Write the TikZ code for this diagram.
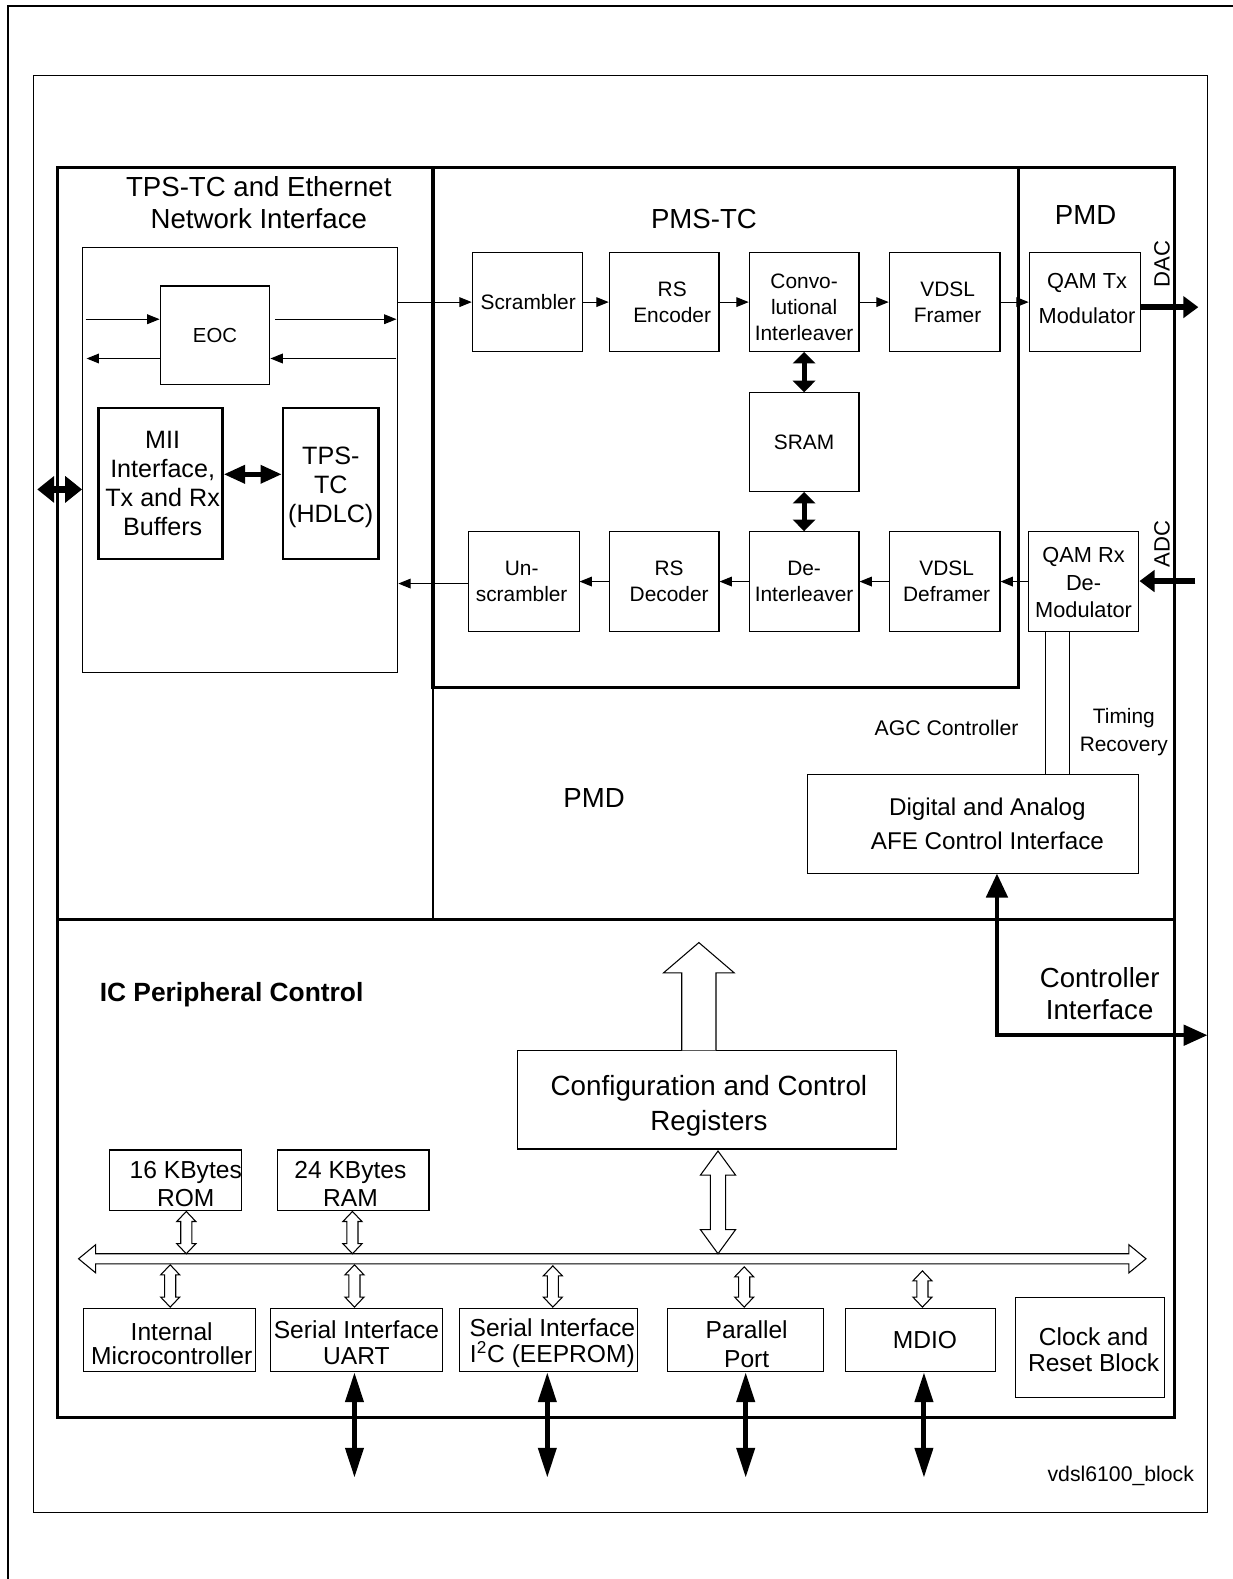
\documentclass[tikz,border=0pt]{standalone}
\usepackage{fontspec}
\setmainfont{Liberation Sans}
\usetikzlibrary{arrows.meta,calc}

\newcommand\fsz[2]{\fontsize{#1pt}{#2pt}\selectfont}
% block: name, left, top, right, bottom, style, text offset (dx,dy), text
\newcommand\blk[8]{%
  \node[#6, minimum width={(#4-#2)*0.02cm}, minimum height={(#5-#3)*0.02cm}] (#1) at ({(#2+#4)/2},{(#3+#5)/2}) {};
  \node[#6, draw=none] (#1-t) at ($(#1.center)+(#7)$) {#8};}
% hollow double-headed vertical arrow: x, top tip, bottom tip, shaft half width, head half width, head length
\newcommand\hollowpair[6]{%
  \draw[line width=0.6pt, fill=white]
    (#1-#4,#2+#6) -- (#1-#5,#2+#6) -- (#1,#2) -- (#1+#5,#2+#6) -- (#1+#4,#2+#6)
    -- (#1+#4,#3-#6) -- (#1+#5,#3-#6) -- (#1,#3) -- (#1-#5,#3-#6) -- (#1-#4,#3-#6) -- cycle;}

\begin{document}
\begin{tikzpicture}[x=0.02cm,y=-0.02cm,
  thinline/.style={line width=0.6pt},
  edgeframe/.style={line width=1.6pt},
  box/.style={draw, line width=0.6pt, inner sep=0pt, align=center, font=\fsz{11.8}{14.6}},
  heavybox/.style={draw, line width=1.4pt, inner sep=0pt, align=center, font=\fsz{14.2}{16.4}},
  lowbox/.style={box, font=\fsz{13.9}{14.8}},
  lbl/.style={inner sep=0pt, align=center},
  flow/.style={line width=0.6pt, -{Triangle[length=7pt,width=5.5pt]}},
  fatpair/.style={line width=2.8pt, {Triangle[length=6.5pt,width=12.5pt]}-{Triangle[length=6.5pt,width=12.5pt]}},
  miipair/.style={line width=2.6pt, {Triangle[length=12pt,width=10pt]}-{Triangle[length=12pt,width=10pt]}},
  extpair/.style={line width=4.2pt, {Triangle[length=9.5pt,width=14.5pt]}-{Triangle[length=9.5pt,width=14.5pt]}},
  fat/.style={line width=3.6pt, -{Triangle[length=8.5pt,width=12pt]}},
  ctrl/.style={line width=2.3pt, {Triangle[length=13.5pt,width=12pt]}-{Triangle[length=13.5pt,width=11.5pt]}},
  iopair/.style={line width=2.8pt, {Triangle[length=17pt,width=10pt]}-{Triangle[length=17pt,width=10pt]}},
]
\useasboundingbox (0,0) rectangle (1224,1568);

% page and sheet frames
\draw[line width=0.8pt] (8,1568) -- (8,6) -- (1224,6);
\draw[thinline] (33,75) rectangle (1199,1502);

% main chip outline and partitions
\draw[edgeframe] (57,166) rectangle (1166,1408);
\draw[edgeframe] (57,913) -- (1166,913);
\draw[edgeframe] (430,166) -- (430,913);
\blk{pms}{430}{166}{1011}{683}{draw, line width=1.8pt, inner sep=0pt}{0,0}{}

% section titles
\node[lbl, font=\fsz{15.6}{18.1}] (ttps) at (257,201) {TPS-TC and Ethernet\\Network Interface};
\node[lbl, font=\fsz{15.6}{18.1}] (tpms) at (699,217) {PMS-TC};
\node[lbl, font=\fsz{15.6}{18.1}] (tpmd) at (1078,214) {PMD};
\node[lbl, font=\fsz{15.6}{18.1}] (tpmd2) at (590,792) {PMD};
\node[lbl, font=\fsz{12}{15}] (tagc) at (940,723) {AGC Controller};
\node[lbl, font=\fsz{11.8}{15.3}] (ttim) at (1116,727) {Timing\\Recovery};
\node[lbl, font=\fsz{15.6}{18.1}] (tci) at (1092,987) {Controller\\Interface};
\node[lbl, font=\bfseries\fsz{14.9}{18}] (tic) at (230,988) {IC Peripheral Control};
\node[lbl, font=\fsz{12}{14}, anchor=base east] (tblk) at (1186,1471) {vdsl6100\_block};
\node[lbl, font=\fsz{12.5}{14}, rotate=90] (tdac) at (1154,262) {DAC};
\node[lbl, font=\fsz{12.5}{14}, rotate=90] (tadc) at (1154,540) {ADC};

% TPS-TC and Ethernet network interface
\blk{tpsin}{82}{246}{395}{668}{box}{0,0}{}
\blk{eoc}{159}{284}{268}{382}{box, font=\fsz{11.5}{14}}{0,0}{EOC}
\blk{mii}{98}{405}{221}{555}{heavybox}{2,0}{MII\\Interface,\\Tx and Rx\\Buffers}
\blk{hdlc}{281}{405}{376}{555}{heavybox}{0,4}{TPS-\\TC\\(HDLC)}

% PMS-TC transmit path
\blk{scr}{469}{251}{578}{349}{box}{1,0}{Scrambler}
\blk{rsenc}{605}{251}{714}{349}{box}{8,0}{RS\\Encoder}
\blk{cil}{744}{251}{853}{349}{box}{0,5}{Convo-\\lutional\\Interleaver}
\blk{vfr}{883}{251}{993}{349}{box}{3,0}{VDSL\\Framer}
\blk{qtx}{1022}{251}{1133}{349}{box, font=\fsz{12.3}{19.8}}{2,-4}{QAM Tx\\Modulator}
\blk{sram}{744}{390}{853}{488}{box}{0,0}{SRAM}

% PMS-TC receive path
\blk{unscr}{465}{528}{575}{627}{box}{-2,0}{Un-\\scrambler}
\blk{rsdec}{605}{528}{714}{627}{box}{5,0}{RS\\Decoder}
\blk{dil}{744}{528}{853}{627}{box}{0,0}{De-\\Interleaver}
\blk{vdf}{883}{528}{993}{627}{box}{2,0}{VDSL\\Deframer}
\blk{qrx}{1021}{528}{1131}{627}{box, font=\fsz{12.3}{15.6}}{0,1}{QAM Rx\\De-\\Modulator}

% AFE control
\blk{afe}{802}{769}{1131}{867}{box, font=\fsz{13.7}{19.3}}{14,0}{Digital and Analog\\AFE Control Interface}

% peripheral control
\blk{cfg}{514}{1043}{890}{1141}{box, font=\fsz{15.7}{19.8}}{2,6}{Configuration and Control\\Registers}
\blk{rom}{109}{1142}{240}{1202}{lowbox, font=\fsz{13.9}{15.9}}{10,4}{16 KBytes\\ROM}
\blk{ram}{276}{1142}{426}{1202}{lowbox, font=\fsz{13.9}{15.9}}{-3,4}{24 KBytes\\RAM}
\blk{mcu}{83}{1299}{254}{1362}{lowbox, font=\fsz{13.9}{13.2}}{2,4}{Internal\\Microcontroller}
\blk{uart}{269}{1299}{439}{1362}{lowbox}{0,3}{Serial Interface\\UART}
\blk{i2c}{456}{1299}{633}{1362}{lowbox}{4,3}{Serial Interface\\I\textsuperscript{2}C (EEPROM)}
\blk{par}{663}{1299}{818}{1362}{lowbox, font=\fsz{13.9}{16.4}}{1,4}{Parallel\\Port}
\blk{mdio}{840}{1299}{989}{1362}{lowbox}{4,0}{MDIO}
\blk{clk}{1008}{1288}{1156}{1388}{lowbox}{4,2}{Clock and\\Reset Block}

% EOC side channels
\coordinate (eocin) at (85,317);
\coordinate (eocout) at (86,356);
\draw[flow] (eocin) -- (eocin -| eoc.west);
\draw[flow] (eocout -| eoc.west) -- (eocout);
\draw[flow, shorten >=1pt] ($(eocin -| eoc.east)+(5,0)$) -- (eocin -| tpsin.east);
\draw[flow] ($(eocout -| tpsin.east)+(-2,0)$) -- (eocout -| eoc.east);

% external MII port and internal link
\coordinate (extl) at (37,486);
\draw[extpair] (extl) -- (extl -| tpsin.west);
\draw[miipair] ($(mii.east)+(0,-9)$) -- ($(hdlc.west)+(0,-9)$);

% transmit data flow
\draw[flow] (tpsin.east |- scr.west) -- (scr.west);
\draw[flow] (scr) -- (rsenc);
\draw[flow] (rsenc) -- (cil);
\draw[flow] (cil) -- (vfr);
\draw[flow] (vfr) -- (qtx);

% receive data flow
\draw[flow] (qrx) -- (vdf);
\draw[flow] (vdf) -- (dil);
\draw[flow] (dil) -- (rsdec);
\draw[flow] (rsdec) -- (unscr);
\draw[flow] ($(unscr.west)+(0,2)$) -- ($(unscr.west -| tpsin.east)+(0,2)$);

% interleaver memory
\draw[fatpair] (cil) -- (sram);
\draw[fatpair] (sram) -- (dil);

% line interface
\coordinate (dacend) at (1190,305);
\draw[fat] (qtx.east |- dacend) -- (dacend);
\coordinate (adcstart) at (1187,577);
\draw[fat] (adcstart) -- (adcstart -| qrx.east);

% AGC and timing recovery
\coordinate (agcx) at (1038,0);
\coordinate (timx) at (1062,0);
\draw[thinline] (qrx.south -| agcx) -- (afe.north -| agcx);
\draw[thinline] (qrx.south -| timx) -- (afe.north -| timx);

% controller interface
\coordinate (cibend) at (990,1028);
\coordinate (ciend) at (1199,1028);
\draw[ctrl] (cibend |- afe.south) -- (cibend) -- (ciend);

% internal bus
\draw[line width=0.6pt, fill=white] (78,1250) -- (95,1236) -- (95,1245) -- (1121,1245) -- (1121,1236)
  -- (1138,1250) -- (1121,1264) -- (1121,1255) -- (95,1255) -- (95,1264) -- cycle;

% register block links
\draw[line width=0.6pt, fill=white] (677,1043) -- (677,966) -- (659,966) -- (694,936) -- (729,966)
  -- (711,966) -- (711,1043);
\hollowpair{713}{1143}{1245}{7.5}{17.5}{24}

% bus taps
\hollowpair{185}{1203}{1245}{5.5}{9.5}{10}
\hollowpair{350}{1203}{1245}{5.5}{9.5}{10}
\hollowpair{169}{1256}{1298}{5.5}{9.5}{10}
\hollowpair{352}{1256}{1298}{5.5}{9.5}{10}
\hollowpair{549}{1257}{1298}{5.5}{9.5}{10}
\hollowpair{739}{1258}{1298}{5.5}{9.5}{10}
\hollowpair{916}{1262}{1298}{5.5}{9.5}{10}

% external peripheral ports
\draw[iopair] ($(uart.south)+(-2,0)$) -- ++(0,105);
\draw[iopair] ($(i2c.south)+(-1,0)$) -- ++(0,105);
\draw[iopair] (par.south) -- ++(0,105);
\draw[iopair] ($(mdio.south)+(3,0)$) -- ++(0,105);
\end{tikzpicture}
\end{document}
